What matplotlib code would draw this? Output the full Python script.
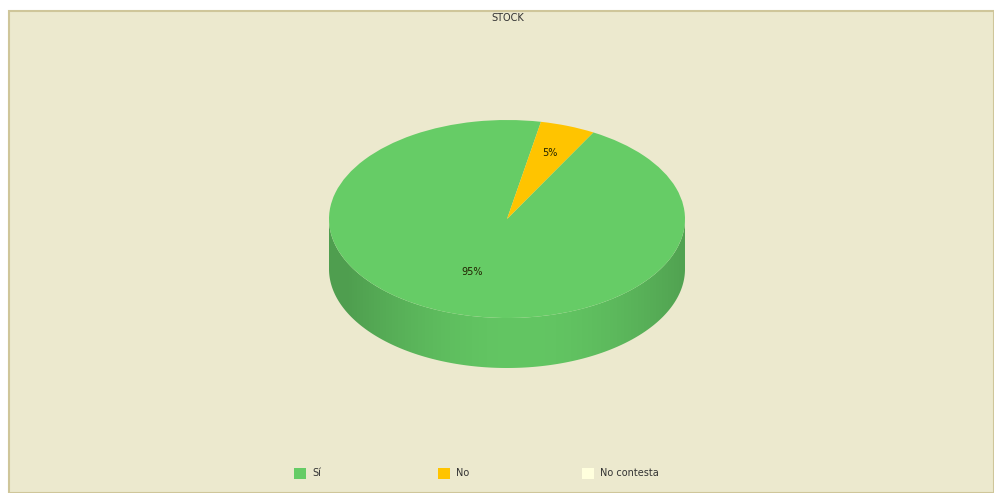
import numpy as np
import matplotlib
matplotlib.use("Agg")
import matplotlib.pyplot as plt
from matplotlib.patches import Rectangle, Polygon
from matplotlib.colors import to_rgb

# Survey answers for "STOCK"
categories = ["Sí", "No", "No contesta"]
values = [95, 5, 0]
colors = ["#66CC66", "#FFC400", "#FFFFDD"]
title = "STOCK"

W, H = 994, 493
fig = plt.figure(figsize=(W / 100, H / 100), dpi=100)
fig.patch.set_facecolor("white")

# Beige panel behind the chart
panel = Rectangle((9 / W, 0), 1 - 9 / W, 1 - 11 / H, transform=fig.transFigure,
                  facecolor="#ECE9CE", edgecolor="#CFC69A", linewidth=1.5, zorder=-10)
fig.add_artist(panel)

fig.text(508 / W, 1 - 18 / H, title, ha="center", va="center", fontsize=7,
         color="#333333", family="DejaVu Sans")

# Pie geometry (pixels): ellipse centre, radii and side depth
cx, cy, rx, ry, depth = 507, 219, 178, 99, 50
d = depth / ry
ax = fig.add_axes([(cx - rx) / W, 1 - (cy + ry + depth) / H,
                   2 * rx / W, (2 * ry + depth) / H])
ax.patch.set_alpha(0)

wedges, texts, autotexts = ax.pie(
    values, colors=colors, startangle=79, counterclock=True, radius=1,
    autopct=lambda p: f"{p:.0f}%" if p > 0 else "", pctdistance=0.62,
    wedgeprops=dict(linewidth=0, zorder=3),
    textprops=dict(fontsize=7, color="#222200", family="DejaVu Sans"))

# Narrow slices carry their label further out from the centre
total = float(sum(values))
for w, t, v in zip(wedges, autotexts, values):
    mid = np.radians((w.theta1 + w.theta2) / 2)
    dist = 0.56 + 0.16 * (1 - v / total)
    t.set_position((dist * np.cos(mid), dist * np.sin(mid)))
    t.set_zorder(5)

ax.set_aspect("auto")
ax.axis("off")

# Visible side of the cylinder: front half (180..360 degrees) of each wedge
xs = np.linspace(-1, 1, 400)
shade = 0.80 + 0.20 * np.cos(np.clip((xs - 0.08) * 1.6, -np.pi / 2, np.pi / 2))
for w, col in zip(wedges, colors):
    t1, t2 = w.theta1, w.theta2
    if t2 - t1 <= 0:
        continue
    for k in range(-1, 3):
        a = max(t1, 180 + 360 * k)
        b = min(t2, 360 + 360 * k)
        if b <= a:
            continue
        th = np.radians(np.linspace(a, b, 200))
        top = np.column_stack([np.cos(th), np.sin(th)])
        bot = np.column_stack([np.cos(th[::-1]), np.sin(th[::-1]) - d])
        poly = Polygon(np.vstack([top, bot]), closed=True, facecolor="none",
                       edgecolor="none", transform=ax.transData)
        ax.add_patch(poly)
        base = np.array(to_rgb(col))
        grad = np.clip(shade[None, :, None] * base[None, None, :] * 0.97, 0, 1)
        im = ax.imshow(grad, extent=[-1, 1, -1 - d, 1], aspect="auto",
                       interpolation="bilinear", zorder=1)
        im.set_clip_path(poly)

ax.set_xlim(-1, 1)
ax.set_ylim(-1 - d, 1)

# Legend row along the bottom
lx0, step, ly, sq = 294, 144, 473, 12
for i, (name, col) in enumerate(zip(categories, colors)):
    x = lx0 + i * step
    fig.add_artist(Rectangle((x / W, 1 - (ly + sq / 2) / H), sq / W, 11 / H,
                             transform=fig.transFigure, facecolor=col,
                             edgecolor="none", zorder=2))
    fig.text((x + sq + 6) / W, 1 - ly / H, name, ha="left", va="center",
             fontsize=7, color="#333333", family="DejaVu Sans")

fig.savefig("out.png", dpi=100, facecolor=fig.get_facecolor())
